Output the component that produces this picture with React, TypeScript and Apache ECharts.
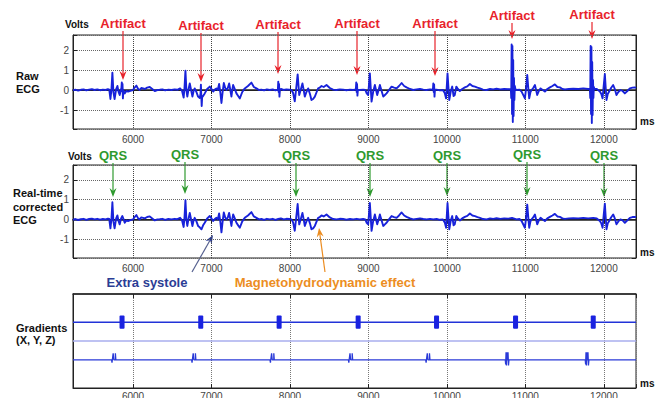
import React, { useEffect, useRef } from "react";
import * as echarts from "echarts";

const X_MIN = 5235;
const X_MAX = 12410;
const xTicks = [6000, 7000, 8000, 9000, 10000, 11000, 12000];
const yTicks = [-1, 0, 1, 2];

// Real-time corrected ECG [ms, volts]
const correctedEcg: [number, number][] = [
  [5235, -0.02], [5265, 0.02], [5300, -0.03], [5335, 0.01], [5370, 0.03], [5405, -0.02], [5440, 0.02],
  [5475, 0.04], [5510, 0.0], [5545, 0.03], [5580, -0.01], [5615, 0.02], [5650, 0.0], [5680, 0.04],
  [5697, 0.02], [5712, -0.45], [5725, 0.02], [5737, 0.87], [5750, -0.1], [5765, -0.45], [5785, 0.05],
  [5801, 0.2], [5815, -0.08], [5830, -0.25], [5848, 0.05], [5864, 0.17], [5880, 0.0], [5894, -0.17],
  [5915, -0.05], [5937, -0.08], [5965, -0.04], [6000, 0.0], [6020, 0.12], [6043, 0.22], [6065, 0.05],
  [6085, 0.0], [6105, 0.1], [6128, 0.08], [6150, 0.05], [6180, 0.12], [6213, 0.15], [6245, 0.05],
  [6277, -0.05], [6310, 0.0], [6340, 0.01], [6375, 0.03], [6410, -0.02], [6450, 0.02], [6490, 0.0],
  [6530, 0.03], [6565, 0.01], [6600, 0.08],
  [6625, -0.05], [6645, -0.38], [6656, 0.1], [6668, 0.97], [6680, 0.0], [6692, -0.33], [6708, 0.05],
  [6723, 0.33], [6740, 0.0], [6757, -0.33], [6772, -0.05], [6786, 0.08], [6808, -0.1], [6829, -0.33],
  [6850, -0.4], [6872, -0.5], [6893, -0.3], [6914, -0.17], [6945, 0.05], [6978, 0.17], [7000, 0.05],
  [7021, -0.08], [7042, 0.02], [7063, 0.08], [7080, 0.0],
  [7097, 0.3], [7112, -0.1], [7127, -0.65], [7142, -0.1], [7157, 0.35], [7175, 0.1], [7191, 0.0],
  [7208, 0.1], [7225, 0.33], [7240, 0.0], [7254, -0.33], [7265, 0.0], [7276, 0.25], [7297, 0.05],
  [7318, -0.17], [7340, -0.3], [7361, -0.42], [7392, -0.1], [7424, 0.08], [7465, 0.2], [7509, 0.37],
  [7540, 0.15], [7573, 0.08], [7605, 0.0], [7637, 0.02], [7670, -0.02], [7705, 0.03], [7743, 0.0],
  [7780, 0.03], [7815, -0.02], [7850, 0.02], [7885, 0.05], [7920, 0.0], [7955, 0.03], [7990, 0.02],
  [8020, 0.0],
  [8040, -0.15], [8061, -0.57], [8080, 0.1], [8098, 0.78], [8118, -0.25], [8140, 0.05], [8159, 0.33],
  [8175, 0.0], [8189, -0.33], [8210, -0.1], [8232, 0.08], [8255, -0.2], [8274, -0.5], [8295, -0.45],
  [8317, -0.33], [8340, -0.1], [8359, 0.08], [8380, 0.12], [8402, 0.2], [8430, 0.15], [8466, 0.25],
  [8508, 0.1], [8550, 0.02], [8593, 0.0], [8635, 0.03], [8678, 0.02], [8720, -0.01], [8765, 0.02],
  [8806, 0.0], [8850, 0.03], [8890, 0.0], [8933, 0.02], [8960, 0.0],
  [8978, -0.17], [8997, -0.25], [9018, 0.83], [9040, -0.58], [9060, -0.1], [9082, 0.25], [9097, 0.0],
  [9112, -0.25], [9130, 0.0], [9146, 0.25], [9168, -0.05], [9189, -0.33], [9210, -0.25], [9231, -0.17],
  [9262, 0.0], [9295, 0.17], [9327, 0.12], [9359, 0.08], [9390, 0.2], [9423, 0.35], [9455, 0.2],
  [9486, 0.13], [9530, 0.05], [9571, 0.0], [9615, 0.03], [9657, 0.05], [9699, 0.02], [9740, 0.0],
  [9785, 0.03], [9826, 0.0], [9870, 0.02], [9910, -0.02], [9950, 0.0],
  [9974, -0.17], [9990, -0.42], [10008, 0.83], [10030, -0.5], [10050, -0.05], [10068, 0.17],
  [10085, -0.3], [10100, -0.25], [10120, 0.17], [10140, 0.05], [10165, -0.05], [10195, 0.05],
  [10229, 0.13], [10260, 0.18], [10293, 0.3], [10325, 0.2], [10357, 0.17], [10390, 0.12], [10421, 0.08],
  [10460, 0.02], [10506, 0.0], [10550, 0.05], [10590, 0.03], [10633, 0.06], [10680, 0.03], [10730, 0.05],
  [10782, 0.04], [10830, 0.07], [10888, 0.0], [10925, 0.02],
  [10952, -0.08], [10994, -0.42], [11010, 0.1], [11024, 0.75], [11037, 0.1], [11049, -0.42],
  [11065, -0.1], [11079, 0.0], [11100, 0.1], [11122, 0.25], [11137, 0.0], [11151, -0.25], [11172, -0.05],
  [11194, 0.08], [11222, 0.0], [11249, -0.08], [11280, 0.05], [11313, 0.13], [11345, 0.2], [11376, 0.28],
  [11408, 0.15], [11440, 0.13], [11472, 0.05], [11504, 0.03], [11555, 0.05], [11610, 0.06], [11675, 0.05],
  [11738, 0.08], [11800, 0.05], [11865, 0.08], [11910, 0.05],
  [11950, -0.08], [11968, -0.2], [11984, -0.42], [11998, 0.2], [12013, 0.8], [12024, 0.1], [12034, -0.5],
  [12050, -0.2], [12068, -0.08], [12092, 0.1], [12119, 0.25], [12140, 0.05], [12161, -0.25], [12185, -0.1],
  [12212, 0.0], [12240, -0.05], [12268, -0.17], [12300, -0.05], [12332, 0.08], [12365, 0.12],
  [12395, 0.13], [12410, 0.1],
];

// Gradient-induced artifacts present only in the raw ECG [ms, volts]
const artifactSpikes: [number, number][] = [
  [5852, 0.1], [5857, 0.38], [5861, -0.05], [5866, 0.3], [5871, -0.42], [5877, 0.0],
  [6860, -0.2], [6865, 0.27], [6870, -0.3], [6875, -0.8], [6881, -0.35],
  [7846, 0.02], [7851, 0.42], [7856, -0.1], [7861, 0.3], [7866, -0.33], [7872, 0.02],
  [8840, 0.03], [8845, 0.38], [8850, -0.1], [8855, 0.3], [8860, -0.28], [8866, 0.02],
  [9822, 0.02], [9827, 0.33], [9832, -0.1], [9837, 0.28], [9842, -0.33], [9848, 0.02],
  [10815, 0.05], [10820, -0.4], [10825, 2.28], [10830, -1.2], [10835, 2.2], [10840, -1.6],
  [10845, 1.5], [10850, -1.3], [10855, 0.6], [10860, -0.5], [10866, 0.2], [10872, 0.05],
  [11822, 0.05], [11827, -0.4], [11832, 2.2], [11837, -1.2], [11842, 2.15], [11847, -1.65],
  [11852, 1.4], [11857, -1.25], [11862, 0.5], [11867, -0.4], [11873, 0.15], [11879, 0.06],
];

// Gradient traces (arbitrary units, level per channel)
const gradientX: [number, number][] = [[5235, 7], [12410, 7]];
const gradientBlocks: [number, number][] = [
  [5828, 5892], [6831, 6895], [7830, 7894], [8837, 8901], [9836, 9900], [10843, 10907], [11833, 11897],
];
const gradientY: [number, number][] = [[5235, 5], [12410, 5]];
const gradientZ: [number, number][] = [
  [5235, 3],
  [5727, 3], [5732, 2.7], [5747, 3.7], [5755, 3.7], [5755, 3], [5775, 3], [5775, 3.7], [5781, 3.7], [5781, 3],
  [6747, 3], [6752, 2.7], [6767, 3.7], [6775, 3.7], [6775, 3], [6795, 3], [6795, 3.7], [6801, 3.7], [6801, 3],
  [7746, 3], [7751, 2.7], [7766, 3.7], [7774, 3.7], [7774, 3], [7794, 3], [7794, 3.7], [7800, 3.7], [7800, 3],
  [8745, 3], [8750, 2.7], [8765, 3.7], [8773, 3.7], [8773, 3], [8793, 3], [8793, 3.7], [8799, 3.7], [8799, 3],
  [9730, 3], [9735, 2.7], [9750, 3.7], [9758, 3.7], [9758, 3], [9778, 3], [9778, 3.7], [9784, 3.7], [9784, 3],
  [10744, 3], [10749, 2.5], [10754, 3.8], [10759, 2.4], [10764, 3.8], [10764, 3], [10779, 3], [10779, 3.8],
  [10785, 3.8], [10785, 2.4], [10791, 2.4], [10791, 3],
  [11763, 3], [11768, 2.5], [11773, 3.8], [11778, 2.4], [11783, 3.8], [11783, 3], [11798, 3], [11798, 3.8],
  [11804, 3.8], [11804, 2.4], [11810, 2.4], [11810, 3],
  [12410, 3],
];

const rawEcg: [number, number][] = [...correctedEcg, ...artifactSpikes].sort((a, b) => a[0] - b[0]);

const FONT = "'Liberation Sans', Arial, sans-serif";
const BLUE = "#1822da";

const grids = [
  { left: 73, right: 29, top: 35, height: 94 },
  { left: 73, right: 29, top: 165, height: 93 },
  { left: 73, right: 29, top: 294, height: 94 },
];

function bottomX(i: number) {
  return {
    type: "value",
    gridIndex: i,
    min: X_MIN,
    max: X_MAX,
    minInterval: 1000,
    maxInterval: 1000,
    axisLine: { show: true, lineStyle: { color: "#222", width: 1 } },
    axisTick: { show: true, inside: true, length: 4, lineStyle: { color: "#222" } },
    axisLabel: {
      color: "#444",
      fontSize: 10,
      fontFamily: FONT,
      margin: i === 2 ? 3 : 5,
      formatter: (v: number) => (xTicks.includes(v) ? String(v) : ""),
    },
    splitLine: { show: true, lineStyle: { type: "dotted", color: i === 2 ? "#777" : "#444", width: 1 } },
  };
}
function topX(i: number) {
  return {
    type: "value",
    gridIndex: i,
    position: "top",
    min: X_MIN,
    max: X_MAX,
    minInterval: 1000,
    maxInterval: 1000,
    axisLine: { show: true, lineStyle: { color: "#222", width: 1.5 } },
    axisTick: { show: true, inside: true, length: 4, lineStyle: { color: "#222" } },
    axisLabel: { show: false },
    splitLine: { show: false },
  };
}
function leftY(i: number) {
  return {
    type: "value",
    gridIndex: i,
    min: -1.95,
    max: 2.75,
    minInterval: 1,
    maxInterval: 1,
    axisLine: { show: true, lineStyle: { color: "#222" } },
    axisTick: { show: true, inside: true, length: 4, lineStyle: { color: "#222" } },
    axisLabel: {
      color: "#444",
      fontSize: 10,
      fontFamily: FONT,
      margin: 4,
      formatter: (v: number) => (yTicks.includes(v) ? String(v) : ""),
    },
    splitLine: {
      show: true,
      lineStyle: { type: "dotted", color: "#666", width: 1 },
    },
  };
}
function rightY(i: number) {
  return {
    type: "value",
    gridIndex: i,
    position: "right",
    min: -1.95,
    max: 2.75,
    minInterval: 1,
    maxInterval: 1,
    axisLine: { show: true, lineStyle: { color: "#222" } },
    axisTick: { show: true, inside: true, length: 4, lineStyle: { color: "#222" } },
    axisLabel: { show: false },
    splitLine: { show: false },
  };
}

function textEl(text: string, x: number, y: number, fill: string, size: number, align = "left") {
  return {
    type: "text",
    x,
    y,
    style: {
      text,
      fill,
      fontSize: size,
      fontWeight: "bold",
      fontFamily: FONT,
      align,
      verticalAlign: "middle",
    },
  };
}
function arrowDown(x: number, y1: number, tip: number, color: string) {
  return [
    { type: "line", shape: { x1: x, y1, x2: x, y2: tip - 6 }, style: { stroke: color, lineWidth: 1.2 } },
    {
      type: "polygon",
      shape: { points: [[x - 3.5, tip - 9], [x, tip - 6], [x + 3.5, tip - 9], [x, tip]] },
      style: { fill: color },
    },
  ];
}
function arrowAngled(x1: number, y1: number, x2: number, y2: number, color: string, lineColor: string) {
  const dx = x2 - x1;
  const dy = y2 - y1;
  const len = Math.sqrt(dx * dx + dy * dy);
  const ux = dx / len;
  const uy = dy / len;
  const bx = x2 - ux * 9;
  const by = y2 - uy * 9;
  const px = -uy * 3.5;
  const py = ux * 3.5;
  return [
    { type: "line", shape: { x1, y1, x2: x2 - ux * 6, y2: y2 - uy * 6 }, style: { stroke: lineColor, lineWidth: 1.2 } },
    {
      type: "polygon",
      shape: { points: [[bx + px, by + py], [x2 - ux * 6, y2 - uy * 6], [bx - px, by - py], [x2, y2]] },
      style: { fill: color },
    },
  ];
}

const artifactLabels = [
  { x: 123, y: 23, tip: 80 },
  { x: 201, y: 25, tip: 82 },
  { x: 278, y: 24, tip: 74 },
  { x: 357, y: 23, tip: 75 },
  { x: 435, y: 23, tip: 76 },
  { x: 512, y: 15, tip: 39 },
  { x: 592, y: 14, tip: 39 },
];
const qrsLabels = [
  { x: 113, y: 155, tip: 197 },
  { x: 185, y: 154, tip: 194 },
  { x: 296, y: 155, tip: 197 },
  { x: 370, y: 155, tip: 197 },
  { x: 447, y: 155, tip: 196 },
  { x: 527, y: 154, tip: 196 },
  { x: 604, y: 155, tip: 197 },
];

export default function App() {
  const ref = useRef<HTMLDivElement>(null);
  useEffect(() => {
    if (!ref.current) return;
    const chart = echarts.init(ref.current, undefined, { renderer: "svg" });
    const RED = "#e8232b";
    const GREEN = "#2f9a2f";
    const graphics: any[] = [];
    graphics.push(textEl("Volts", 65, 24, "#111", 10));
    graphics.push(textEl("Volts", 68, 156, "#111", 10));
    graphics.push(textEl("Raw", 16, 76, "#111", 11));
    graphics.push(textEl("ECG", 16, 89, "#111", 11));
    graphics.push(textEl("Real-time", 13, 193, "#111", 11));
    graphics.push(textEl("corrected", 13, 207, "#111", 11));
    graphics.push(textEl("ECG", 13, 220, "#111", 11));
    graphics.push(textEl("Gradients", 16, 328, "#111", 11));
    graphics.push(textEl("(X, Y, Z)", 16, 340, "#111", 11));
    graphics.push(textEl("ms", 640, 121, "#111", 10));
    graphics.push(textEl("ms", 640, 252, "#111", 10));
    graphics.push(textEl("ms", 640, 383, "#111", 10));
    artifactLabels.forEach((a) => {
      graphics.push(textEl("Artifact", a.x, a.y, RED, 13, "center"));
      graphics.push(...arrowDown(a.x, a.y + 8, a.tip, RED));
    });
    qrsLabels.forEach((q) => {
      graphics.push(textEl("QRS", q.x, q.y, GREEN, 13, "center"));
      graphics.push(...arrowDown(q.x, q.y + 8, q.tip, GREEN));
    });
    graphics.push(textEl("Extra systole", 147, 282, "#2b3d95", 13, "center"));
    graphics.push(...arrowAngled(192, 272, 213, 235, "#2b3d95", "#55608f"));
    graphics.push(textEl("Magnetohydrodynamic effect", 325, 282, "#ec8d22", 13, "center"));
    graphics.push(...arrowAngled(325, 272, 319, 228, "#ec8d22", "#ec8d22"));

    chart.setOption({
      animation: false,
      backgroundColor: "#fff",
      grid: grids.map((g) => ({
        ...g,
        show: true,
        borderColor: "#222",
        borderWidth: 1,
        backgroundColor: "#fff",
        containLabel: false,
        outerBoundsMode: "none",
      })),
      xAxis: [bottomX(0), bottomX(1), bottomX(2), topX(0), topX(1), topX(2)],
      yAxis: [
        leftY(0),
        leftY(1),
        {
          type: "value",
          gridIndex: 2,
          min: 0,
          max: 10,
          axisLine: { show: true, lineStyle: { color: "#222" } },
          axisTick: { show: false },
          axisLabel: { show: false },
          splitLine: { show: false },
        },
        rightY(0),
        rightY(1),
      ],
      series: [
        {
          type: "line",
          xAxisIndex: 0,
          yAxisIndex: 0,
          data: rawEcg,
          showSymbol: false,
          lineStyle: { color: BLUE, width: 1.9, join: "round" },
          z: 5,
        },
        {
          type: "line",
          xAxisIndex: 1,
          yAxisIndex: 1,
          data: correctedEcg,
          showSymbol: false,
          lineStyle: { color: BLUE, width: 1.9, join: "round" },
          z: 5,
        },
        {
          type: "line",
          xAxisIndex: 2,
          yAxisIndex: 2,
          data: gradientX,
          showSymbol: false,
          lineStyle: { color: "#2233d8", width: 1.5 },
        },
        {
          type: "custom",
          xAxisIndex: 2,
          yAxisIndex: 2,
          data: gradientBlocks,
          encode: { x: [0, 1] },
          renderItem: (_p: any, api: any) => {
            const a = api.coord([api.value(0), 7.7]);
            const b = api.coord([api.value(1), 6.3]);
            return {
              type: "rect",
              shape: { x: a[0], y: a[1], width: b[0] - a[0], height: b[1] - a[1], r: 1 },
              style: { fill: "#1a22e0" },
            };
          },
          z: 6,
        },
        {
          type: "line",
          xAxisIndex: 2,
          yAxisIndex: 2,
          data: gradientY,
          showSymbol: false,
          lineStyle: { color: "#a9aeee", width: 1.5 },
        },
        {
          type: "line",
          xAxisIndex: 2,
          yAxisIndex: 2,
          data: gradientZ,
          showSymbol: false,
          lineStyle: { color: "#2a3ad8", width: 1.3 },
        },
      ],
      graphic: graphics,
    });
    return () => chart.dispose();
  }, []);
  return (
    <div
      ref={ref}
      style={{ position: "fixed", left: 0, top: 0, width: 665, height: 398, background: "#fff" }}
    />
  );
}
